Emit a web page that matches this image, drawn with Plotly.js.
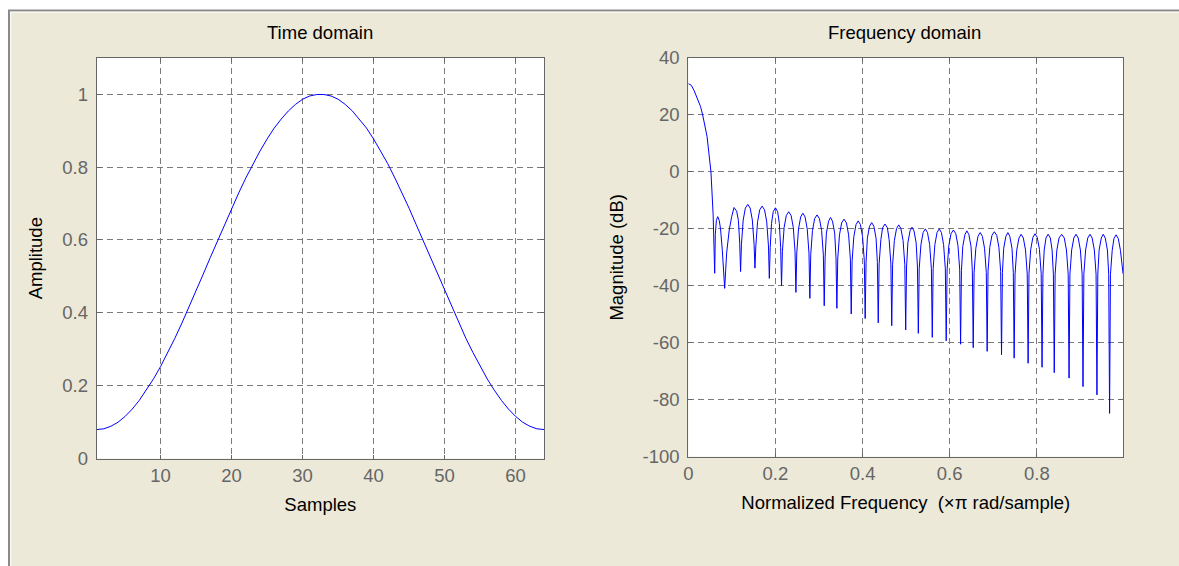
<!DOCTYPE html>
<html>
<head>
<meta charset="utf-8">
<script src="https://cdn.plot.ly/plotly-3.0.1.min.js"></script>
<style>
html,body{margin:0;padding:0;background:#ECE9D8;}
#chart{width:1179px;height:566px;}
</style>
</head>
<body>
<div id="chart"></div>
<script>
// ---------- Data ----------
const timeSamples = [1,2,3,4,5,6,7,8,9,10,11,12,13,14,15,16,17,18,19,20,21,22,23,24,25,26,27,28,29,30,31,32,
  33,34,35,36,37,38,39,40,41,42,43,44,45,46,47,48,49,50,51,52,53,54,55,56,57,58,59,60,61,62,63,64];
const timeAmplitude = [0.080,0.082,0.089,0.100,0.116,0.136,0.160,0.188,0.219,0.253,0.291,0.330,0.372,0.415,0.460,0.506,
  0.552,0.597,0.642,0.687,0.729,0.770,0.809,0.844,0.877,0.907,0.932,0.954,0.972,0.986,0.995,0.999,
  0.999,0.995,0.986,0.972,0.954,0.932,0.907,0.877,0.844,0.809,0.770,0.729,0.687,0.642,0.597,0.552,
  0.506,0.460,0.415,0.372,0.330,0.291,0.253,0.219,0.188,0.160,0.136,0.116,0.100,0.089,0.082,0.080];

const freqNorm = [
  0,0.007,0.0135,0.020,0.028,0.033,0.038,0.043,0.047,0.052,0.054,0.057,
  0.0606,0.062,0.0645,0.0675,0.071,0.074,0.078,
  0.0835,0.088,0.094,0.0996,0.105,0.111,0.115,0.118,
  0.120,0.122,0.126,0.131,0.1365,0.142,0.147,0.151,
  0.153,0.155,0.159,0.164,0.1695,0.175,0.180,0.184,
  0.186,0.188,0.191,0.195,0.200,0.205,0.209,0.212,
  0.214,0.216,0.220,0.225,0.2305,0.236,0.241,0.245,
  0.247,0.249,0.253,0.258,0.263,0.268,0.273,0.277,
  0.279,0.281,0.285,0.290,0.2955,0.301,0.306,0.310,
  0.312,0.314,0.317,0.322,0.3265,0.331,0.336,0.339,
  0.341,0.343,0.347,0.352,0.3575,0.363,0.368,0.372,
  0.374,0.376,0.380,0.385,0.390,0.395,0.400,0.404,
  0.406,0.408,0.411,0.416,0.421,0.426,0.431,0.434,
  0.436,0.438,0.442,0.446,0.4515,0.457,0.461,0.465,
  0.467,0.469,0.473,0.478,0.483,0.488,0.493,0.497,
  0.499,0.501,0.504,0.509,0.5135,0.518,0.523,0.526,
  0.528,0.530,0.534,0.539,0.544,0.549,0.554,0.558,
  0.560,0.562,0.566,0.571,0.576,0.581,0.586,0.590,
  0.592,0.594,0.598,0.603,0.6085,0.614,0.619,0.623,
  0.625,0.627,0.630,0.635,0.6395,0.644,0.649,0.652,
  0.654,0.656,0.660,0.665,0.670,0.675,0.680,0.684,
  0.686,0.688,0.692,0.697,0.7025,0.708,0.713,0.717,
  0.719,0.721,0.724,0.729,0.7335,0.738,0.743,0.746,
  0.748,0.750,0.754,0.759,0.764,0.769,0.774,0.778,
  0.780,0.782,0.786,0.791,0.796,0.801,0.806,0.810,
  0.812,0.814,0.817,0.821,0.826,0.831,0.835,0.838,
  0.840,0.842,0.846,0.851,0.857,0.863,0.868,0.872,
  0.874,0.876,0.880,0.885,0.890,0.895,0.900,0.904,
  0.906,0.908,0.912,0.917,0.922,0.927,0.932,0.936,
  0.938,0.940,0.943,0.948,0.9525,0.957,0.962,0.965,
  0.967,0.969,0.973,0.977,0.982,0.987,0.992,0.998
];
const freqMagDb = [
  31,30.4,28.5,26.3,23,20,16.5,12.5,7,0,-6,-15,
  -35.6,-22,-17,-15.7,-17,-20,-27.4,
  -40.9,-28.5,-20.4,-15.7,-12.5,-13.8,-17,-25,
  -35,-25.4,-16.9,-12.7,-11.4,-12.7,-16.9,-25.4,
  -33.8,-26,-17.5,-13.3,-12,-13.3,-17.5,-26,
  -37.4,-26.6,-18.1,-13.9,-12.6,-13.9,-18.1,-26.6,
  -40,-28,-19.5,-15.3,-14,-15.3,-19.5,-28,
  -42.3,-28.5,-20,-15.8,-14.5,-15.8,-20,-28.5,
  -44.4,-29.1,-20.6,-16.4,-15.1,-16.4,-20.6,-29.1,
  -47,-30,-21.5,-17.3,-16,-17.3,-21.5,-30,
  -47.9,-30.6,-22.1,-17.9,-16.6,-17.9,-22.1,-30.6,
  -49.9,-31.2,-22.7,-18.5,-17.2,-18.5,-22.7,-31.2,
  -51.5,-31.8,-23.3,-19.1,-17.8,-19.1,-23.3,-31.8,
  -53,-32.3,-23.8,-19.6,-18.3,-19.6,-23.8,-32.3,
  -54,-32.6,-24.1,-19.9,-18.6,-19.9,-24.1,-32.6,
  -55.5,-33.4,-24.9,-20.7,-19.4,-20.7,-24.9,-33.4,
  -56.7,-34,-25.5,-21.3,-20,-21.3,-25.5,-34,
  -58.1,-34,-25.5,-21.3,-20,-21.3,-25.5,-34,
  -59.3,-34.4,-25.9,-21.7,-20.4,-21.7,-25.9,-34.4,
  -60.5,-34.7,-26.2,-22,-20.7,-22,-26.2,-34.7,
  -61.7,-35.3,-26.8,-22.6,-21.3,-22.6,-26.8,-35.3,
  -63,-35,-26.5,-22.3,-21,-22.3,-26.5,-35,
  -64.2,-35.3,-26.8,-22.6,-21.3,-22.6,-26.8,-35.3,
  -65.4,-35.9,-27.4,-23.2,-21.9,-23.2,-27.4,-35.9,
  -67.2,-35.7,-27.2,-23,-21.7,-23,-27.2,-35.7,
  -68.6,-35.9,-27.4,-23.2,-21.9,-23.2,-27.4,-35.9,
  -70.5,-35.9,-27.4,-23.2,-21.9,-23.2,-27.4,-35.9,
  -72.4,-35.9,-27.4,-23.2,-21.9,-23.2,-27.4,-35.9,
  -75.4,-35.9,-27.4,-23.2,-21.9,-23.2,-27.4,-35.9,
  -78.3,-35.9,-27.4,-23.2,-21.9,-23.2,-27.4,-35.9,
  -84.8,-36.1,-27.6,-23.4,-22.1,-23.4,-27.6,-35.8
];

const timeXTicks = [10,20,30,40,50,60];
const timeYTicks = [0,0.2,0.4,0.6,0.8,1];
const timeYTickText = ['0','0.2','0.4','0.6','0.8','1'];
const freqXTicks = [0,0.2,0.4,0.6,0.8];
const freqXTickText = ['0','0.2','0.4','0.6','0.8'];
const freqYTicks = [-100,-80,-60,-40,-20,0,20,40];
const freqYTickText = ['-100','-80','-60','-40','-20','0','20','40'];

// ---------- Styling ----------
const W = 1179, H = 566;
const FONT = '"Liberation Sans", Arial, sans-serif';
const tickFont = {family: FONT, size: 18.5, color: '#666666'};
const titleFont = {family: FONT, size: 18.5, color: '#000000'};

function axisBase() {
  return {
    showline: true, linecolor: '#666666', linewidth: 1, mirror: 'ticks',
    ticks: 'inside', ticklen: 4, tickcolor: '#666666', tickwidth: 1,
    showgrid: true, gridcolor: '#7a7a7a', gridwidth: 1, griddash: '6px,4px',
    zeroline: false, tickfont: tickFont, automargin: false, fixedrange: true
  };
}

const traces = [
  {x: timeSamples, y: timeAmplitude, type: 'scatter', mode: 'lines',
   line: {color: '#0000FF', width: 1}, xaxis: 'x', yaxis: 'y', hoverinfo: 'skip'},
  {x: freqNorm, y: freqMagDb, type: 'scatter', mode: 'lines',
   line: {color: '#0000FF', width: 1}, xaxis: 'x2', yaxis: 'y2', hoverinfo: 'skip'}
];

const px = v => v / W;
const py = v => 1 - v / H;

const layout = {
  width: W, height: H,
  margin: {l: 0, r: 0, t: 0, b: 0},
  paper_bgcolor: '#ECE9D8',
  plot_bgcolor: '#FFFFFF',
  showlegend: false,
  xaxis: Object.assign(axisBase(), {
    domain: [px(96.7), px(544)], range: [1, 64], anchor: 'y',
    tickvals: timeXTicks,
    title: {text: 'Samples', font: titleFont, standoff: 13}
  }),
  yaxis: Object.assign(axisBase(), {
    domain: [py(458.7), py(57.7)], range: [0, 1.1], anchor: 'x',
    tickvals: timeYTicks, ticktext: timeYTickText, ticklabelstandoff: 4,
    title: {text: 'Amplitude', font: titleFont, standoff: 14}
  }),
  xaxis2: Object.assign(axisBase(), {
    domain: [px(688.3), px(1123.3)], range: [0, 0.9985], anchor: 'y2',
    tickvals: freqXTicks, ticktext: freqXTickText,
    title: {text: 'Normalized Frequency  (×π rad/sample)', font: titleFont, standoff: 13}
  }),
  yaxis2: Object.assign(axisBase(), {
    domain: [py(456.7), py(58)], range: [-100, 40], anchor: 'x2',
    tickvals: freqYTicks, ticktext: freqYTickText, ticklabelstandoff: 4,
    title: {text: 'Magnitude (dB)', font: titleFont, standoff: 14}
  }),
  annotations: [
    {text: 'Time domain', xref: 'paper', yref: 'paper', x: px(320), y: py(33),
     xanchor: 'center', yanchor: 'middle', showarrow: false, font: titleFont},
    {text: 'Frequency domain', xref: 'paper', yref: 'paper', x: px(904), y: py(33),
     xanchor: 'center', yanchor: 'middle', showarrow: false, font: titleFont}
  ],
  shapes: [
    {type: 'rect', xref: 'paper', yref: 'paper', x0: 0, x1: 1, y0: py(10), y1: 1,
     fillcolor: '#FFFFFF', line: {width: 0}, layer: 'above'},
    {type: 'rect', xref: 'paper', yref: 'paper', x0: 0, x1: px(8), y0: 0, y1: 1,
     fillcolor: '#FFFFFF', line: {width: 0}, layer: 'above'},
    {type: 'line', xref: 'paper', yref: 'paper', x0: px(8), x1: 1, y0: py(10.5), y1: py(10.5),
     line: {color: '#8a8a8a', width: 2}},
    {type: 'line', xref: 'paper', yref: 'paper', x0: px(9), x1: px(9), y0: 0, y1: py(10),
     line: {color: '#8a8a8a', width: 2}},
    {type: 'line', xref: 'paper', yref: 'paper', x0: px(10), x1: 1, y0: py(12.2), y1: py(12.2),
     line: {color: '#FFFFFF', width: 1}},
    {type: 'line', xref: 'paper', yref: 'paper', x0: px(10.7), x1: px(10.7), y0: 0, y1: py(12),
     line: {color: '#FFFFFF', width: 1}}
  ]
};

Plotly.newPlot('chart', traces, layout, {displayModeBar: false, staticPlot: true});
</script>
</body>
</html>
